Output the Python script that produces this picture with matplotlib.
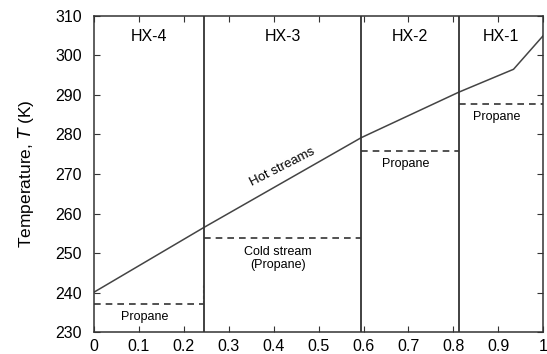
import numpy as np
import matplotlib.pyplot as plt

plt.rcParams['font.family'] = ['Liberation Sans', 'DejaVu Sans']

# Hot composite curve (fraction of duty vs temperature)
hot_x = [0.0, 0.245, 0.595, 0.812, 0.934, 1.0]
hot_t = [240.1, 256.5, 279.2, 290.7, 296.5, 305.0]

# Exchanger boundaries and cold-side (propane) levels
bounds = [0.0, 0.245, 0.595, 0.812, 1.0]
cold_t = [237.0, 253.8, 275.8, 287.6]
hx_names = ['HX-4', 'HX-3', 'HX-2', 'HX-1']
cold_names = ['Propane', 'Cold stream\n(Propane)', 'Propane', 'Propane']

fig = plt.figure(figsize=(5.47, 3.54), dpi=100)
ax = fig.add_axes([0.172, 0.062, 0.821, 0.893])

ax.plot(hot_x, hot_t, color='#444444', lw=1.1)

for i in range(4):
    x0, x1 = bounds[i], bounds[i + 1]
    ax.plot([x0, x1], [cold_t[i], cold_t[i]], color='#333333', lw=1.2,
            dashes=(4, 3))
    xm = (x0 + x1) / 2
    ax.text(xm, 304.8, hx_names[i], ha='center', va='center', fontsize=11.5)
    ax.text(xm - 0.01, cold_t[i] - 3.2 - (2.0 if i == 1 else 0), cold_names[i],
            ha='center', va='center', fontsize=9, linespacing=1.15)

# small dashed riser at the HX-4 / HX-3 boundary
ax.plot([0.243, 0.243], [237, 242], color='#888888', lw=0.8, dashes=(3, 2))

for b in bounds[1:-1]:
    ax.axvline(b, color='#333333', lw=1.3)

ax.text(0.42, 271.8, 'Hot streams', rotation=27, ha='center', va='center',
        fontsize=9.5)

ax.set_xlim(0, 1)
ax.set_ylim(230, 310)
ax.set_xticks(np.arange(0, 1.01, 0.1))
ax.set_xticklabels(['0', '0.1', '0.2', '0.3', '0.4', '0.5', '0.6', '0.7',
                    '0.8', '0.9', '1'])
ax.set_yticks(np.arange(230, 311, 10))
ax.tick_params(direction='in', length=4, top=True, right=True, labelsize=11.5,
               color='#333333')
ax.tick_params(axis='y', pad=9)
ax.tick_params(axis='x', pad=5)
ax.set_ylabel('Temperature, $T$ (K)', fontsize=12.5, labelpad=14)
for s in ax.spines.values():
    s.set_linewidth(1.1)
    s.set_color('#333333')

fig.savefig('out.png', dpi=100)
